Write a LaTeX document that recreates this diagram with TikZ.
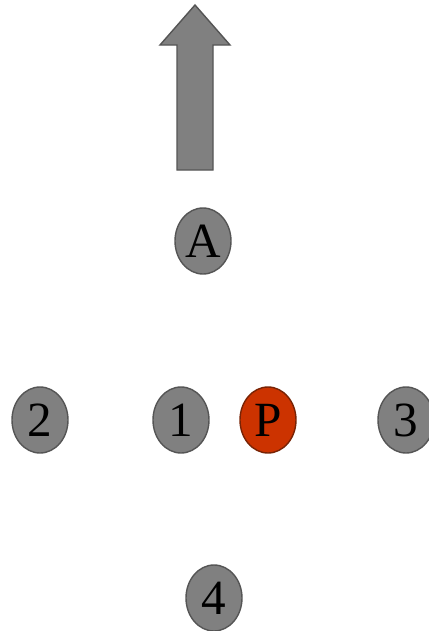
\documentclass[tikz,border=0pt]{standalone}
\usepackage{fontspec}
\setmainfont{Liberation Serif}
\usetikzlibrary{shapes.geometric}
\definecolor{dotgray}{RGB}{128,128,128}
\definecolor{rimgray}{RGB}{85,85,85}
\definecolor{pred}{RGB}{204,51,0}
\definecolor{prim}{RGB}{120,35,5}

\begin{document}
\begin{tikzpicture}[scale=0.2]
\tikzstyle{every node}+=[inner sep=0pt]
\tikzstyle{dot}=[ellipse, draw=rimgray, fill=dotgray, line width=0.8pt,
  minimum width=1.12cm, minimum height=1.32cm, font=\fontsize{28}{30}\selectfont]
\tikzstyle{pdot}=[dot, draw=prim, fill=pred]
\useasboundingbox (0,0) rectangle (42.9,-63.1);
% heading arrow
\filldraw [draw=rimgray, fill=dotgray, line width=0.8pt]
  (17.7,-17) -- (17.7,-4.5) -- (16,-4.5) -- (19.5,-0.5) -- (23,-4.5) -- (21.3,-4.5) -- (21.3,-17) -- cycle;
% agents
\node [dot] (A) at (20.3,-24.1) {A};
\node [dot] (n2) at (4,-42) {2};
\node [dot] (n1) at (18.1,-42) {1};
\node [pdot] (P) at (26.8,-42) {P};
\node [dot] (n3) at (40.6,-42) {3};
\node [dot] (n4) at (21.4,-59.8) {4};
\end{tikzpicture}
\end{document}
